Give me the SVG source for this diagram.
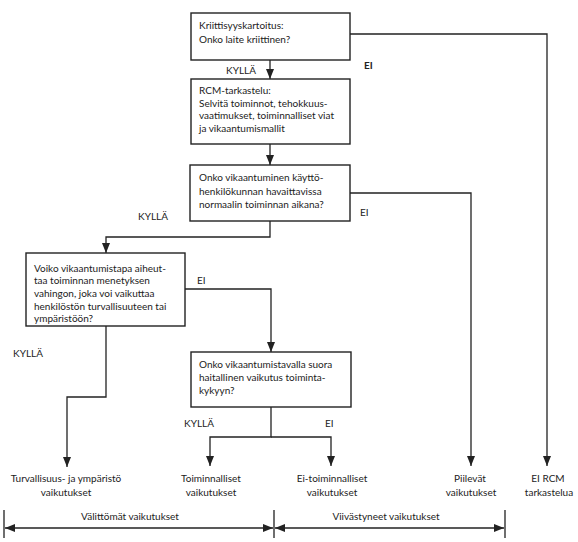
<svg xmlns="http://www.w3.org/2000/svg" width="578" height="542" viewBox="0 0 578 542">
<style>
.box{fill:#fff;stroke:#222;stroke-width:1.4}
.ln{fill:none;stroke:#222;stroke-width:1.3}
text{font-family:Lato,"Liberation Sans",sans-serif;font-size:10px;fill:#222}
.c{text-anchor:middle}
.b{font-weight:bold}
</style>
<defs>
<marker id="ah" markerUnits="userSpaceOnUse" markerWidth="10" markerHeight="10" viewBox="0 0 10 10" refX="10" refY="5" orient="auto">
<path d="M0,1 L10,5 L0,9 Z" fill="#222"/>
</marker>
<marker id="as" markerUnits="userSpaceOnUse" markerWidth="10" markerHeight="10" viewBox="0 0 10 10" refX="0" refY="5" orient="auto">
<path d="M10,1 L0,5 L10,9 Z" fill="#222"/>
</marker>
</defs>
<g id="connectors">
<path class="ln" d="M270,60 V79" marker-end="url(#ah)"/>
<path class="ln" d="M350,34 H547 V466" marker-end="url(#ah)"/>
<path class="ln" d="M270,144 V165" marker-end="url(#ah)"/>
<path class="ln" d="M350,193 H471 V466" marker-end="url(#ah)"/>
<path class="ln" d="M270,221 V237 H106 V253" marker-end="url(#ah)"/>
<path class="ln" d="M185,289 H271 V352" marker-end="url(#ah)"/>
<path class="ln" d="M106,326 V397 H67 V467" marker-end="url(#ah)"/>
<path class="ln" d="M271,407 V437 H210 V466" marker-end="url(#ah)"/>
<path class="ln" d="M271,437 H331 V466" marker-end="url(#ah)"/>
<path class="ln" d="M4,510 V538 M274,510 V538 M505,510 V538"/>
<path class="ln" d="M5,528 H273" marker-start="url(#as)" marker-end="url(#ah)"/>
<path class="ln" d="M275,528 H504" marker-start="url(#as)" marker-end="url(#ah)"/>
<text x="241" y="74" class="c">KYLLÄ</text>
<text x="364" y="69" class="b">EI</text>
<text x="153" y="220" class="c">KYLLÄ</text>
<text x="360" y="216">EI</text>
<text x="197" y="284">EI</text>
<text x="28" y="357" class="c">KYLLÄ</text>
<text x="199" y="427" class="c">KYLLÄ</text>
<text x="325" y="427">EI</text>
<text x="130" y="520" class="c">Välittömät vaikutukset</text>
<text x="386" y="520" class="c">Viivästyneet vaikutukset</text>
</g>
<g id="n1">
<rect class="box" x="191" y="13" width="159" height="47"/>
<text x="199" y="29">Kriittisyyskartoitus:</text>
<text x="199" y="43">Onko laite kriittinen?</text>
</g>
<g id="n2">
<rect class="box" x="191" y="79" width="159" height="65"/>
<text x="199" y="94">RCM-tarkastelu:</text>
<text x="199" y="107">Selvitä toiminnot, tehokkuus-</text>
<text x="199" y="119">vaatimukset, toiminnalliset viat</text>
<text x="199" y="132">ja vikaantumismallit</text>
</g>
<g id="n3">
<rect class="box" x="190" y="165" width="160" height="56"/>
<text x="199" y="181">Onko vikaantuminen käyttö-</text>
<text x="199" y="195">henkilökunnan havaittavissa</text>
<text x="199" y="208">normaalin toiminnan aikana?</text>
</g>
<g id="n4">
<rect class="box" x="26" y="253" width="159" height="73"/>
<text x="34" y="272">Voiko vikaantumistapa aiheut-</text>
<text x="34" y="284">taa toiminnan menetyksen</text>
<text x="34" y="297">vahingon, joka voi vaikuttaa</text>
<text x="34" y="310">henkilöstön  turvallisuuteen tai</text>
<text x="34" y="322">ympäristöön?</text>
</g>
<g id="n5">
<rect class="box" x="191" y="352" width="160" height="55"/>
<text x="199" y="368">Onko vikaantumistavalla suora</text>
<text x="199" y="381">haitallinen vaikutus toiminta-</text>
<text x="199" y="394">kykyyn?</text>
</g>
<g id="o1"><text x="66" y="482" class="c">Turvallisuus- ja ympäristö</text><text x="66" y="496" class="c">vaikutukset</text></g>
<g id="o2"><text x="211" y="482" class="c">Toiminnalliset</text><text x="211" y="496" class="c">vaikutukset</text></g>
<g id="o3"><text x="332" y="482" class="c">Ei-toiminnalliset</text><text x="332" y="496" class="c">vaikutukset</text></g>
<g id="o4"><text x="470" y="482" class="c">Piilevät</text><text x="471" y="496" class="c">vaikutukset</text></g>
<g id="o5"><text x="548" y="482" class="c">EI RCM</text><text x="549" y="496" class="c">tarkastelua</text></g>
</svg>
